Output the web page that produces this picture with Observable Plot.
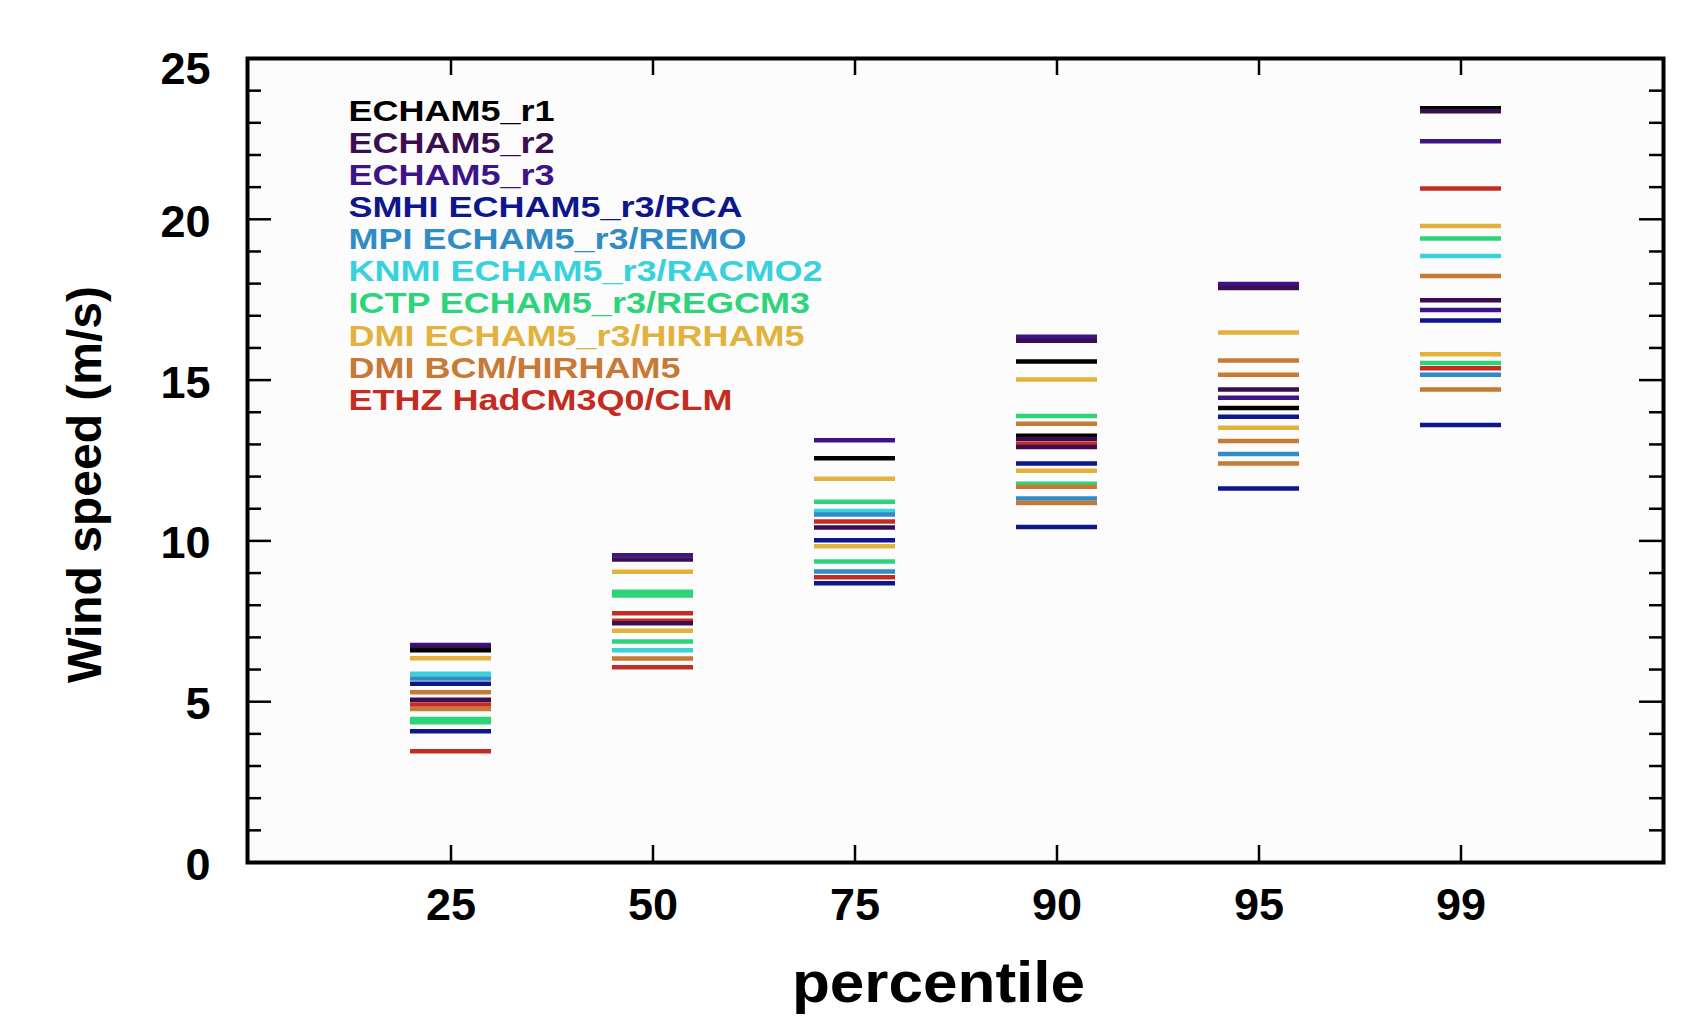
<!DOCTYPE html>
<html>
<head>
<meta charset="utf-8">
<script src="https://cdn.jsdelivr.net/npm/d3@7"></script>
<script src="https://cdn.jsdelivr.net/npm/@observablehq/plot@0.6"></script>
<style>
  html, body { margin: 0; padding: 0; background: #fff; }
</style>
</head>
<body>
<div id="chart"></div>
<script>
// ---- data ----
const percentiles = ["25", "50", "75", "90", "95", "99"];
const models = [
  "ECHAM5_r1",
  "ECHAM5_r2",
  "ECHAM5_r3",
  "SMHI ECHAM5_r3/RCA",
  "MPI ECHAM5_r3/REMO",
  "KNMI ECHAM5_r3/RACMO2",
  "ICTP ECHAM5_r3/REGCM3",
  "DMI ECHAM5_r3/HIRHAM5",
  "DMI BCM/HIRHAM5",
  "ETHZ HadCM3Q0/CLM"
];
const modelColors = [
  "#000000", "#3b0e50", "#3d1488", "#0e168c", "#2f8cc4",
  "#38d2de", "#2ed47a", "#e2b23c", "#c67a36", "#c42c22"
];
const yMajorTicks = [0, 5, 10, 15, 20, 25];
const yMinorTicks = [1, 2, 3, 4, 6, 7, 8, 9, 11, 12, 13, 14, 16, 17, 18, 19, 21, 22, 23, 24];

// wind speed lines per percentile: [model index, wind speed (m/s)]
const p25 = [[2, 6.76], [1, 6.68], [0, 6.60], [7, 6.35], [5, 5.87], [4, 5.72], [3, 5.56], [8, 5.29],
             [1, 5.06], [9, 4.91], [8, 4.77], [6, 4.46], [6, 4.36], [3, 4.08], [9, 3.46]];
const p50 = [[2, 9.55], [1, 9.42], [7, 9.04], [6, 8.42], [6, 8.30], [9, 7.75], [9, 7.52], [1, 7.44],
             [7, 7.21], [6, 6.87], [5, 6.60], [8, 6.34], [9, 6.07]];
const p75 = [[2, 13.13], [0, 12.57], [7, 11.93], [6, 11.22], [5, 10.93], [4, 10.82], [9, 10.60], [1, 10.42],
             [3, 10.02], [7, 9.83], [6, 9.36], [4, 9.05], [9, 8.87], [3, 8.68]];
const p90 = [[2, 16.35], [1, 16.22], [0, 15.58], [7, 15.02], [6, 13.88], [8, 13.64], [0, 13.27], [1, 13.17],
             [9, 13.02], [1, 12.92], [3, 12.41], [7, 12.18], [6, 11.78], [8, 11.68], [4, 11.32], [8, 11.18], [3, 10.43]];
const p95 = [[2, 17.99], [1, 17.86], [7, 16.48], [8, 15.61], [8, 15.17], [1, 14.71], [2, 14.45], [0, 14.13],
             [3, 13.86], [7, 13.52], [8, 13.11], [4, 12.70], [8, 12.41], [3, 11.63]];
const p99 = [[0, 23.45], [1, 23.36], [2, 22.43], [9, 20.96], [7, 19.79], [6, 19.40], [5, 18.86], [8, 18.24],
             [1, 17.48], [2, 17.18], [3, 16.85], [7, 15.80], [6, 15.53], [9, 15.37], [4, 15.17], [8, 14.71], [3, 13.60]];

// ---- build table ----
const groups = [p25, p50, p75, p90, p95, p99];
const rows = groups.flatMap((g, gi) =>
  g.map(([m, v]) => ({percentile: percentiles[gi], model: models[m], value: v}))
);

// ---- layout ----
const W = 1706, H = 1018;
const mL = 247, mR = 43, mT = 58, mB = 156;
const plotW = W - mL - mR, plotH = H - mT - mB;
const font = "'Liberation Sans', Arial, Helvetica, sans-serif";
const yTop = yMajorTicks.filter((d) => d === 25);
const yRest = yMajorTicks.filter((d) => d !== 25);

const chart = Plot.plot({
  width: W,
  height: H,
  marginLeft: mL,
  marginRight: mR,
  marginTop: mT,
  marginBottom: mB,
  style: {background: "#ffffff", fontFamily: font, color: "#000"},
  x: {type: "band", domain: percentiles, paddingInner: 0.6, paddingOuter: 0.8},
  y: {domain: [0, 25]},
  color: {domain: models, range: modelColors},
  marks: [
    Plot.frame({fill: "#fcfcfc", stroke: null}),
    Plot.tickY(rows, {x: "percentile", y: "value", stroke: "model", strokeWidth: 4.5}),
    // inward ticks: left / right
    Plot.ruleY(yMinorTicks, {insetRight: plotW - 14, stroke: "#000", strokeWidth: 2.5}),
    Plot.ruleY(yMajorTicks, {insetRight: plotW - 24, stroke: "#000", strokeWidth: 2.5}),
    Plot.ruleY(yMinorTicks, {insetLeft: plotW - 14, stroke: "#000", strokeWidth: 2.5}),
    Plot.ruleY(yMajorTicks, {insetLeft: plotW - 24, stroke: "#000", strokeWidth: 2.5}),
    // inward ticks: bottom / top
    Plot.ruleX(percentiles, {insetTop: plotH - 17, stroke: "#000", strokeWidth: 2.5}),
    Plot.ruleX(percentiles, {insetBottom: plotH - 17, stroke: "#000", strokeWidth: 2.5}),
    Plot.frame({stroke: "#000", strokeWidth: 4}),
    Plot.axisY(yRest, {tickSize: 0, tickPadding: 37, dy: 3, fontSize: 45, fontWeight: "bold", label: null}),
    Plot.axisY(yTop, {tickSize: 0, tickPadding: 37, dy: 11, fontSize: 45, fontWeight: "bold", label: null}),
    Plot.axisX({tickSize: 0, tickPadding: 26, fontSize: 45, fontWeight: "bold", label: null}),
    // legend
    Plot.text(models, {
      y: (d, i) => 23.37 - i,
      frameAnchor: "left",
      dx: 101,
      textAnchor: "start",
      fill: (d) => d,
      fontSize: 30,
      fontWeight: "bold"
    }),
    // axis titles
    Plot.text(["Wind speed (m/s)"], {
      frameAnchor: "left",
      textAnchor: "middle",
      rotate: -90,
      dx: -162,
      dy: 24,
      fontSize: 48,
      fontWeight: "bold"
    }),
    Plot.text(["percentile"], {
      frameAnchor: "bottom",
      textAnchor: "middle",
      dx: -17,
      dy: 139,
      lineAnchor: "bottom",
      fontSize: 58,
      fontWeight: "bold"
    })
  ]
});

document.getElementById("chart").appendChild(chart);

// horizontal stretch of legend and x title text to match the wide lettering
const stretch = new Map([...models.map((m) => [m, 1.2]), ["percentile", 1.07]]);
d3.select(chart).selectAll("text").each(function () {
  const s = stretch.get(this.textContent);
  if (s) {
    const len = this.getComputedTextLength();
    this.setAttribute("textLength", len * s);
    this.setAttribute("lengthAdjust", "spacingAndGlyphs");
  }
});
</script>
</body>
</html>
